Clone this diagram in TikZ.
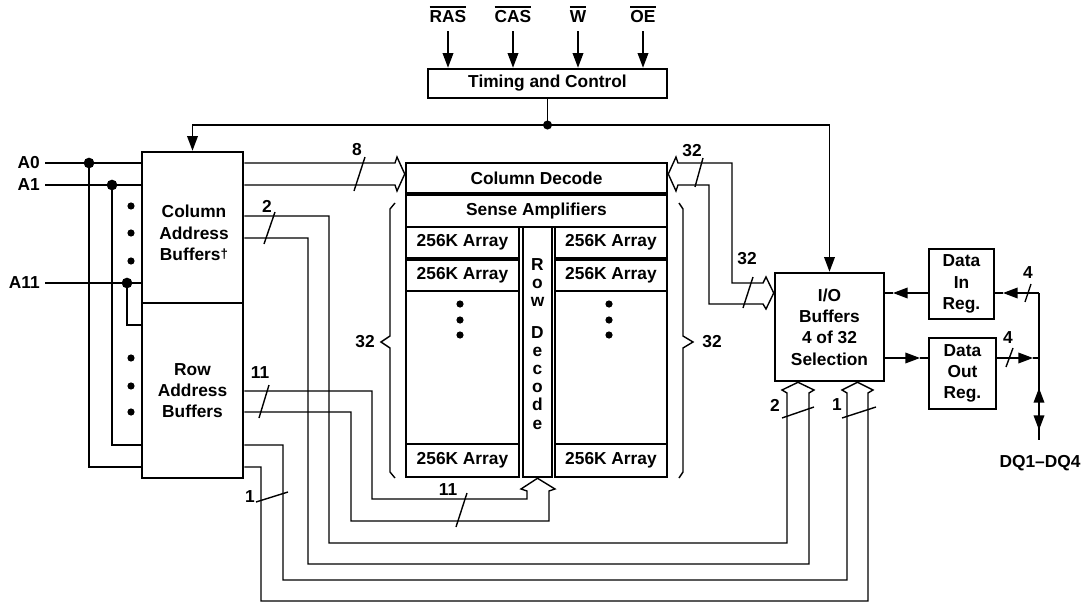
\documentclass[tikz,border=0pt]{standalone}
\usepackage{fontspec}
\setmainfont{Liberation Sans}
\usetikzlibrary{arrows.meta}
\newcommand\lbl{\bfseries\fontsize{13}{16}\selectfont}
\newcommand\ovl[1]{\vbox{\hrule height 1.3pt\kern2.2pt\hbox{#1}}}

\begin{document}
\begin{tikzpicture}[x=0.75pt,y=-0.75pt,
  blk/.style={draw, line width=1.9pt, inner sep=0pt, align=center, font=\lbl},
  txt/.style={inner sep=0pt, align=center, font=\lbl},
  wire/.style={line width=1.05pt},
  arr/.style={wire, -{Triangle[length=11pt,width=8pt]}},
  bus/.style={wire, line join=miter}]

\useasboundingbox (0,0) rectangle (1090,603);

% --- Timing and control
\node[blk, minimum width=179.25pt, minimum height=21.75pt] (timing) at (547.5,83.5) {Timing and Control};
\node[txt, anchor=south] (ras) at (448,23) {\ovl{RAS}};
\node[txt, anchor=south] (cas) at (513,23) {\ovl{CAS}};
\node[txt, anchor=south] (we) at (578,23) {\ovl{W}};
\node[txt, anchor=south] (oe) at (643,23) {\ovl{OE}};
\draw[arr] ([yshift=-6pt]ras.south) -- (ras.south |- timing.north);
\draw[arr] ([yshift=-6pt]cas.south) -- (cas.south |- timing.north);
\draw[arr] ([yshift=-6pt]we.south) -- (we.south |- timing.north);
\draw[arr] ([yshift=-6pt]oe.south) -- (oe.south |- timing.north);

% --- Address buffers
\node[blk, minimum width=75.75pt, minimum height=113.25pt] (colbuf) at (192.5,227.5) {};
\node[txt] (coltxt) at (194,233) {Column\\Address\\Buffers\raisebox{1.5pt}{\fontsize{10}{10}\selectfont\textdagger}};
\node[blk, minimum width=75.75pt, minimum height=131.25pt] (rowbuf) at (192.5,390.5) {Row\\Address\\Buffers};

% --- Memory array
\node[blk, minimum width=195.75pt, minimum height=22.5pt] (coldec) at (536.5,178) {Column Decode};
\node[blk, minimum width=195.75pt, minimum height=24pt] (sense) at (536.5,211) {Sense Amplifiers};
\node[blk, minimum width=84.75pt, minimum height=187.5pt] (colL) at (462.5,352) {};
\node[blk, minimum width=84pt, minimum height=187.5pt] (colR) at (611,352) {};
\node[blk, minimum width=21.75pt, minimum height=187.5pt] (rowdec) at (537.5,352) {};
\node[blk, minimum width=84.75pt, minimum height=23.25pt] (arrL1) at (462.5,242.5) {256K Array};
\node[blk, minimum width=84.75pt, minimum height=23.25pt] (arrL2) at (462.5,275.5) {256K Array};
\node[blk, minimum width=84.75pt, minimum height=24.75pt] (arrL3) at (462.5,460.5) {256K Array};
\node[blk, minimum width=84pt, minimum height=23.25pt] (arrR1) at (611,242.5) {256K Array};
\node[blk, minimum width=84pt, minimum height=23.25pt] (arrR2) at (611,275.5) {256K Array};
\node[blk, minimum width=84pt, minimum height=24.75pt] (arrR3) at (611,460.5) {256K Array};
\node[txt, font=\bfseries\fontsize{13}{13.6}\selectfont] (rdtxt) at (537.5,344) {R\\o\\w\\[10pt]D\\e\\c\\o\\d\\e};
\fill (460,304) circle (2.7pt) (460,320) circle (2.7pt) (460,335) circle (2.7pt);
\fill (609,304) circle (2.7pt) (609,320) circle (2.7pt) (609,335) circle (2.7pt);

% braces
\draw[wire] (395,203) -- (390,209) -- (390,336) -- (381,342) -- (390,348) -- (390,472) -- (395,478);
\draw[wire] (679,203) -- (683,209) -- (683,336) -- (693,342) -- (683,348) -- (683,472) -- (679,478);
\node[txt] (n32l) at (365,342) {32};
\node[txt] (n32r) at (712,342) {32};

% --- I/O and data registers
\node[blk, minimum width=81.75pt, minimum height=81pt] (io) at (829.5,327) {I/O\\Buffers\\4 of 32\\Selection};
\node[blk, minimum width=48.75pt, minimum height=52.5pt] (din) at (961.5,284) {Data\\In\\Reg.};
\node[blk, minimum width=50.25pt, minimum height=53.25pt] (dout) at (962.5,373.5) {Data\\Out\\Reg.};
\node[txt] (dq) at (1040,463) {DQ1–DQ4};

% --- timing out
\draw[wire] (timing.south) -- (timing.south |- 0,125) coordinate (tc);
\draw[arr] (tc) -| (colbuf.north);
\draw[arr] (tc) -| (io.north);
\fill (tc) circle (3.4pt);

% --- address inputs
\node[txt, anchor=east] (a0) at (40,163) {A0};
\node[txt, anchor=east] (a1) at (40,185) {A1};
\node[txt, anchor=east] (a11) at (40,283) {A11};
\draw[wire, shorten <=4pt] (a0.east) -- (a0.east -| colbuf.west);
\draw[wire, shorten <=4pt] (a1.east) -- (a1.east -| colbuf.west);
\draw[wire, shorten <=4pt] (a11.east) -- (a11.east -| colbuf.west);
\draw[wire] (89,163) -- (89,467) -- (89,467 -| rowbuf.west);
\draw[wire] (112,185) -- (112,445) -- (112,445 -| rowbuf.west);
\draw[wire] (127,283) -- (127,325) -- (127,325 -| rowbuf.west);
\fill (89,163) circle (4pt) (112,185) circle (4pt) (127,283) circle (4pt);
\fill (131,206) circle (2.7pt) (131,233) circle (2.7pt) (131,261) circle (2.7pt);
\fill (131,358) circle (2.7pt) (131,386) circle (2.7pt) (131,412) circle (2.7pt);

% --- column address to column decode (8)
\draw[bus] (colbuf.east |- a0.east) -- (395,163) -- (397,157) -- (coldec.west |- 0,174) -- (397,191) -- (395,185) -- (colbuf.east |- a1.east);
\draw[wire] (365,157) -- (354,191);
\node[txt] (n8) at (357,150) {8};

% --- column address to I/O (2)
\draw[bus] (colbuf.east |- 0,216) -- (329,216) -- (329,543) -- (787,543) -- (787,393) -- (782,390) -- (io.south -| 798,0) -- (814,390) -- (809,393) -- (809,564) -- (308,564) -- (308,238) -- (colbuf.east |- 0,238);
\draw[wire] (275,212) -- (264,244);
\node[txt] (n2a) at (267,206) {2};
\draw[wire] (782,418) -- (814,407);
\node[txt] (n2b) at (775,405) {2};

% --- row address to row decode (11)
\draw[bus] (rowbuf.east |- 0,391) -- (372,391) -- (372,499) -- (527,499) -- (527,491) -- (521,489) -- (rowdec.south) -- (555,489) -- (549,491) -- (549,521) -- (351,521) -- (351,412) -- (rowbuf.east |- 0,412);
\draw[wire] (269,385) -- (259,418);
\node[txt] (n11a) at (260,373) {11};
\draw[wire] (467,493) -- (456,527);
\node[txt] (n11b) at (448,490) {11};

% --- row address to I/O (1)
\draw[bus] (rowbuf.east |- 0,445) -- (283,445) -- (283,580) -- (847,580) -- (847,393) -- (842,390) -- (io.south -| 857.5,0) -- (873,390) -- (868,393) -- (868,601) -- (261,601) -- (261,467) -- (rowbuf.east |- 0,467);
\draw[wire] (256,502) -- (288,492);
\node[txt] (n1a) at (250,497) {1};
\draw[wire] (842,418) -- (876,407);
\node[txt] (n1b) at (837,405) {1};

% --- column decode <-> I/O (32)
\draw[bus] (coldec.east |- 0,174) -- (676,157) -- (678,163) -- (732,163) -- (732,283) -- (763,283) -- (766,277) -- (io.west |- 0,293) -- (766,309) -- (763,304) -- (709,304) -- (709,185) -- (678,185) -- (676,191) -- cycle;
\draw[wire] (703,158) -- (695,187);
\node[txt] (n32a) at (692,151) {32};
\draw[wire] (753,277) -- (743,308);
\node[txt] (n32b) at (747,259) {32};

% --- data path
\draw[arr] (din.west |- 0,293) -- (893,293);
\draw[wire] (893,293) -- (io.east |- 0,293);
\draw[arr] (io.east |- 0,358) -- (920,358);
\draw[wire] (920,358) -- (dout.west |- 0,358);
\coordinate (dq0) at (1039,293);
\draw[wire] (dq0) -- (dq0 |- 0,440);
\draw[arr] (dq0) -- (1003,293);
\draw[wire] (1003,293) -- (din.east |- 0,293);
\draw[arr] (dout.east |- 0,358) -- (1033,358);
\draw[wire] (1033,358) -- (dq0 |- 0,358);
\draw[arr] (dq0 |- 0,402) -- (dq0 |- 0,388);
\draw[arr] (dq0 |- 0,416) -- (dq0 |- 0,430);
\draw[wire] (1031,284) -- (1025,302);
\node[txt] (n4a) at (1028,273) {4};
\draw[wire] (1013,348) -- (1006,367);
\node[txt] (n4b) at (1008,338) {4};

\end{tikzpicture}
\end{document}
